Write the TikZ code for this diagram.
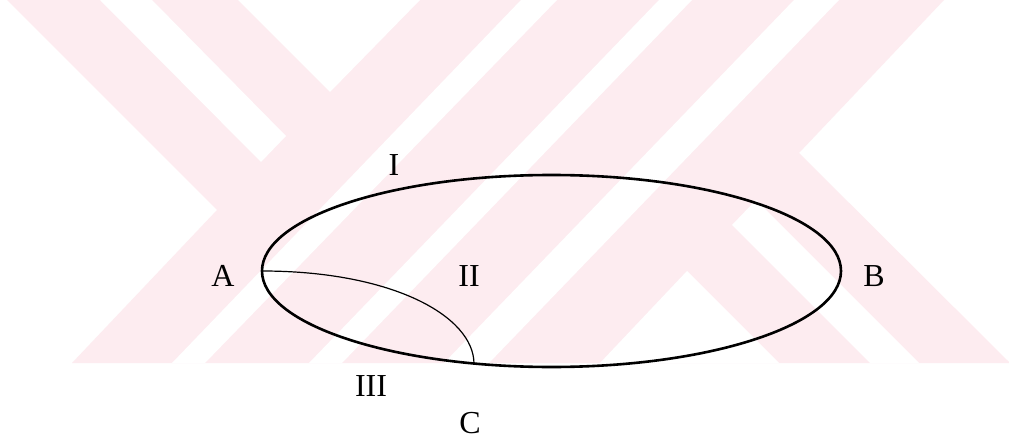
\documentclass[tikz,border=0pt]{standalone}
\usepackage{fontspec}
\setmainfont{Liberation Serif}
\definecolor{wm}{RGB}{253,236,240}
\tikzset{
  wmfill/.style={fill=wm, draw=none},
  wmgap/.style={fill=white, draw=none},
  outline/.style={draw=black, line width=2.6pt},
  thinarc/.style={draw=black, line width=1.2pt},
  lbl/.style={inner sep=0pt, font=\fontsize{32}{38}\selectfont}
}
\begin{document}
\begin{tikzpicture}[x=1pt,y=-1pt]
\path[use as bounding box, fill=white] (0,0) rectangle (1009,441);
% watermark
\path[wmfill] (7,0) -- (944,0) -- (799,153) -- (1009,362) -- (1009,363) -- (72,363) -- (217,210) -- cycle;
\path[wmgap] (100,0) -- (152,0) -- (286,136) -- (261,162) -- cycle;
\path[wmgap] (238,0) -- (420,0) -- (330,92) -- cycle;
\path[wmgap] (521,0) -- (557,0) -- (205,363) -- (172,363) -- cycle;
\path[wmgap] (659,0) -- (692,0) -- (342,363) -- (309,363) -- cycle;
\path[wmgap] (794,0) -- (839,0) -- (489,363) -- (444,363) -- cycle;
\path[wmgap] (600,363) -- (779,363) -- (687,271) -- cycle;
\path[wmgap] (732,225) -- (756,200) -- (919,363) -- (870,363) -- cycle;
% diagram
\coordinate (pA) at (262,271);
\coordinate (pC) at (474,364);
\draw[outline] (551.5,271) ellipse [x radius=289.5pt, y radius=96pt];
\draw[thinarc] (pA) .. controls (392,271) and (474,316) .. (pC);
\node[lbl] (lI) at (394,165) {I};
\node[lbl] (lA) at (223,276) {A};
\node[lbl] (lII) at (469,276) {II};
\node[lbl] (lB) at (874,276) {B};
\node[lbl] (lIII) at (371,386) {III};
\node[lbl] (lC) at (470,423) {C};
\end{tikzpicture}
\end{document}
